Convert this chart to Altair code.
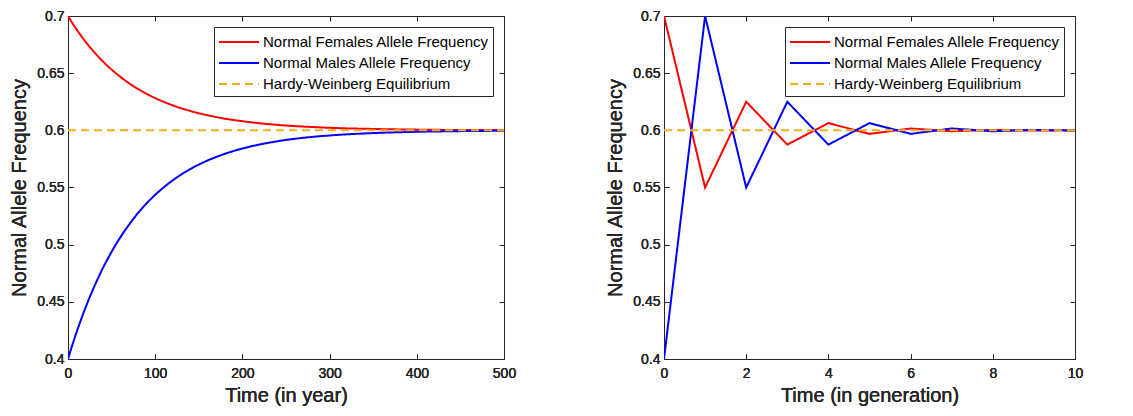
import altair as alt
import pandas as pd

# ---------------- data ----------------
series = ["Normal Females Allele Frequency", "Normal Males Allele Frequency", "Hardy-Weinberg Equilibrium"]
colors = ["#FF0000", "#0000FF", "#EDB120"]
dashes = [[1, 0], [1, 0], [8, 5]]

year_t = [0, 5, 10, 15, 20, 25, 30, 35, 40, 50, 60, 70, 80, 90, 100, 120, 140, 160, 180, 200,
          225, 250, 275, 300, 350, 400, 450, 500]
year_female = [0.7000, 0.6939, 0.6881, 0.6827, 0.6776, 0.6729, 0.6684, 0.6642, 0.6603,
               0.6531, 0.6468, 0.6412, 0.6363, 0.6320, 0.6282, 0.6219, 0.6170, 0.6132,
               0.6102, 0.6080, 0.6058, 0.6042, 0.6031, 0.6022, 0.6012, 0.6006, 0.6003, 0.6002]
year_male = [0.4000, 0.4123, 0.4238, 0.4346, 0.4447, 0.4543, 0.4632, 0.4716, 0.4795,
             0.4938, 0.5064, 0.5175, 0.5274, 0.5360, 0.5436, 0.5562, 0.5660, 0.5736,
             0.5795, 0.5841, 0.5884, 0.5916, 0.5939, 0.5955, 0.5976, 0.5987, 0.5993, 0.5996]
year_hw_t = [0, 500]
year_hw = [0.6, 0.6]

gen_t = [0, 1, 2, 3, 4, 5, 6, 7, 8, 9, 10]
gen_female = [0.7, 0.55, 0.625, 0.5875, 0.6063, 0.5969, 0.6016, 0.5992, 0.6004, 0.5998, 0.6001]
gen_male = [0.4, 0.7, 0.55, 0.625, 0.5875, 0.6063, 0.5969, 0.6016, 0.5992, 0.6004, 0.5998]
gen_hw_t = [0, 10]
gen_hw = [0.6, 0.6]

y_ticks = [0.4, 0.45, 0.5, 0.55, 0.6, 0.65, 0.7]
year_ticks = [0, 100, 200, 300, 400, 500]
gen_ticks = [0, 2, 4, 6, 8, 10]

FONT = "Liberation Sans"
AX = "#262626"


def panel(t, f, m, ht, hv, xdomain, xticks, xtitle, width, height, interp):
    xs = alt.Scale(domain=xdomain, nice=False, zero=False)
    ys = alt.Scale(domain=[0.4, 0.7], nice=False, zero=False)
    cs = alt.Scale(domain=series, range=colors)
    ds = alt.Scale(domain=series, range=dashes)
    frames = [
        pd.DataFrame({"t": t, "v": f, "series": series[0]}),
        pd.DataFrame({"t": t, "v": m, "series": series[1]}),
        pd.DataFrame({"t": ht, "v": hv, "series": series[2]}),
    ]
    layers = []
    for i, d in enumerate(frames):
        enc = dict(
            x=alt.X("t:Q", scale=xs, axis=alt.Axis(
                values=xticks, format="d", title=xtitle, orient="bottom",
                offset=-5, labelPadding=7, titlePadding=5, labelFlush=False)),
            y=alt.Y("v:Q", scale=ys, axis=alt.Axis(
                values=y_ticks, format=".2~f", title="Normal Allele Frequency",
                orient="left", offset=-5, labelPadding=4, titlePadding=7)),
            color=alt.Color("series:N", scale=cs, legend=alt.Legend(title=None)),
            strokeDash=alt.StrokeDash("series:N", scale=ds, legend=alt.Legend(title=None)),
        )
        layers.append(
            alt.Chart(d).mark_line(strokeWidth=2, clip=True,
                                   interpolate=interp if i < 2 else "linear").encode(**enc)
        )
    frame = alt.Chart(frames[0]).mark_line(opacity=0).encode(
        x=alt.X("t:Q", scale=xs, axis=alt.Axis(
            values=xticks, orient="top", labels=False, title=None, offset=-5,
            minExtent=0)),
        y=alt.Y("v:Q", scale=ys, axis=alt.Axis(
            values=y_ticks, orient="right", labels=False, title=None, offset=-5,
            minExtent=0)),
    )
    return alt.layer(*layers, frame).resolve_axis(x="independent", y="independent").properties(
        width=width, height=height)


left = panel(year_t, year_female, year_male, year_hw_t, year_hw,
             [0, 500], year_ticks, "Time (in year)", 436, 343, "monotone")
right = panel(gen_t, gen_female, gen_male, gen_hw_t, gen_hw,
              [0, 10], gen_ticks, "Time (in generation)", 411, 343, "linear")

chart = alt.hconcat(left, right, spacing=88).resolve_scale(
    color="independent", strokeDash="independent"
).resolve_legend(color="independent", strokeDash="independent").properties(
    padding={"left": 1, "top": 0, "right": 5, "bottom": 0}
).configure_view(
    stroke=AX, strokeWidth=1
).configure_axis(
    grid=False, domain=False, tickSize=5, tickColor=AX, tickWidth=1,
    labelFont=FONT, labelFontSize=14, labelColor=AX,
    titleFont=FONT, titleFontSize=20, titleFontWeight="normal", titleColor=AX,
).configure_legend(
    orient="top-right", offset=11, fillColor="white", strokeColor=AX,
    padding=4, symbolType="M-1,0L3,0", symbolSize=400, symbolStrokeWidth=2,
    labelFont=FONT, labelFontSize=15, labelColor="black", labelLimit=500,
    rowPadding=2, labelOffset=23, cornerRadius=0,
)

chart.save("out.html", embed_options={"renderer": "svg", "actions": False})
